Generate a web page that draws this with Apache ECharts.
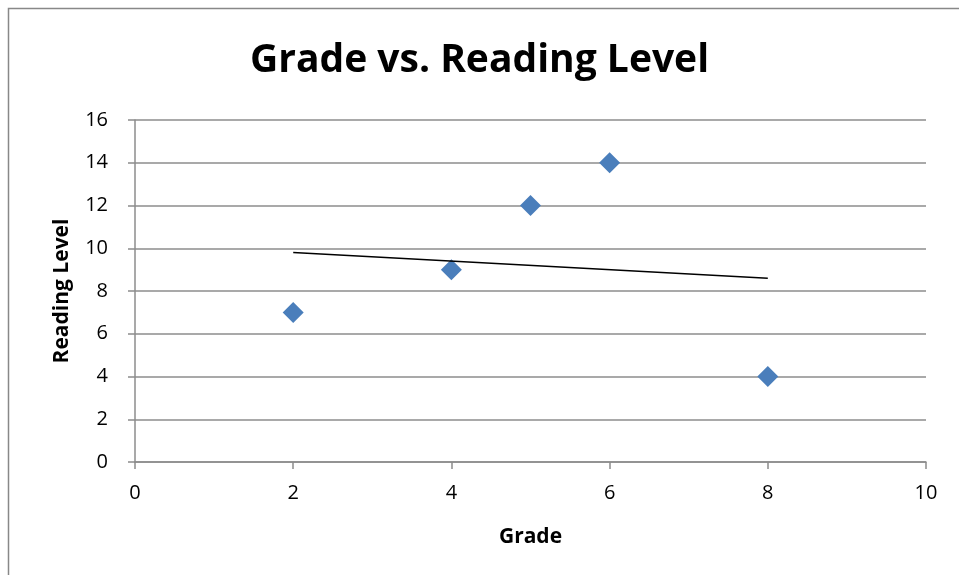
<!DOCTYPE html>
<html>
<head>
<meta charset="UTF-8">
<title>Grade vs. Reading Level</title>
<script src="https://cdn.jsdelivr.net/npm/echarts@6/dist/echarts.min.js"></script>
<style>
  html, body { margin: 0; padding: 0; background: #fff; }
  #main { width: 959px; height: 575px; }
</style>
</head>
<body>
<div id="main"></div>
<script>
// data
var grades = [2, 4, 5, 6, 8];
var readingLevels = [7, 9, 12, 14, 4];
var trendX = [2, 8];
var trendY = [9.8, 8.6];

var points = grades.map(function (g, i) { return [g, readingLevels[i]]; });
var trend = trendX.map(function (x, i) { return [x, trendY[i]]; });

var font = 'Open Sans, Noto Sans, sans-serif';
var chart = echarts.init(document.getElementById('main'));
chart.setOption({
    animation: false,
    title: {
        text: 'Grade vs. Reading Level',
        left: 'center',
        top: 36,
        textStyle: { fontFamily: font, fontSize: 39, fontWeight: 'bold', color: '#000' }
    },
    graphic: [{
        type: 'rect',
        shape: { x: 8.5, y: 8.5, width: 1000, height: 1000 },
        style: { fill: 'none', stroke: '#888', lineWidth: 1.5 },
        silent: true
    }],
    grid: { left: 135, right: 33, top: 120, bottom: 113 },
    xAxis: {
        type: 'value',
        min: 0, max: 10, interval: 2,
        name: 'Grade',
        nameLocation: 'middle',
        nameGap: 65,
        nameTextStyle: { fontFamily: font, fontSize: 21, fontWeight: 'bold', color: '#000' },
        axisLine: { onZero: false, lineStyle: { color: '#8c8c8c', width: 1.5 } },
        axisTick: { show: true, length: 7, lineStyle: { color: '#8c8c8c', width: 1.5 } },
        axisLabel: { fontFamily: font, fontSize: 20, color: '#000', margin: 21 },
        splitLine: { show: false }
    },
    yAxis: {
        type: 'value',
        min: 0, max: 16, interval: 2,
        name: 'Reading Level',
        nameLocation: 'middle',
        nameGap: 62,
        nameTextStyle: { fontFamily: font, fontSize: 21, fontWeight: 'bold', color: '#000' },
        axisLine: { show: true, lineStyle: { color: '#8c8c8c', width: 1.5 } },
        axisTick: { show: true, length: 7, lineStyle: { color: '#8c8c8c', width: 1.5 } },
        axisLabel: { fontFamily: font, fontSize: 20, color: '#000', margin: 27 },
        splitLine: { show: true, lineStyle: { color: '#8c8c8c', width: 1.5 } }
    },
    series: [{
        name: 'Reading Level',
        type: 'scatter',
        data: points,
        symbol: 'diamond',
        symbolSize: 21,
        itemStyle: { color: '#4a7ebb', opacity: 1 }
    }, {
        name: 'Trend',
        type: 'line',
        data: trend,
        symbol: 'none',
        lineStyle: { color: '#000', width: 1.5 }
    }]
});
</script>
</body>
</html>
